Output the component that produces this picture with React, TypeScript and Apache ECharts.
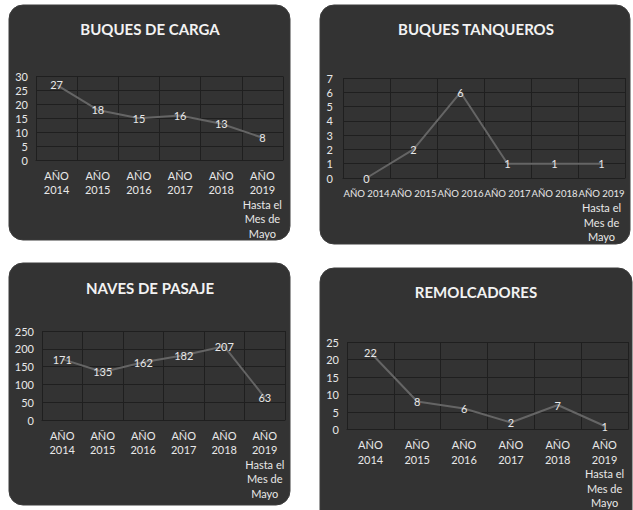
import React, { useEffect, useRef } from "react";
import * as echarts from "echarts";

const titles = ["BUQUES DE CARGA", "BUQUES TANQUEROS", "NAVES DE PASAJE", "REMOLCADORES"];
const catsStacked = ["AÑO\n2014", "AÑO\n2015", "AÑO\n2016", "AÑO\n2017", "AÑO\n2018", "AÑO\n2019\nHasta el\nMes de\nMayo"];
const catsInline = ["AÑO 2014", "AÑO 2015", "AÑO 2016", "AÑO 2017", "AÑO 2018", "AÑO 2019\nHasta el\nMes de\nMayo"];
const cargaValues = [27, 18, 15, 16, 13, 8];
const tanquerosValues = [0, 2, 6, 1, 1, 1];
const pasajeValues = [171, 135, 162, 182, 207, 63];
const remolcadoresValues = [22, 8, 6, 2, 7, 1];
const yMax = [30, 7, 250, 25];
const yStep = [5, 1, 50, 5];

const FONT = "Lato, 'Open Sans', sans-serif";
const PANEL = "#333333";
const GRIDLINE = "#1f1f1f";
const TEXT = "#e8e8e8";
const LINE = "#656565";

export default function App() {
  const ref = useRef<HTMLDivElement>(null);
  useEffect(() => {
    if (!ref.current) return;
    const chart = echarts.init(ref.current, undefined, { renderer: "svg" });
    const grids = [
      { left: 36, top: 76.5, width: 247, height: 83.5 },
      { left: 343, top: 78, width: 282, height: 100 },
      { left: 42, top: 331, width: 243, height: 89 },
      { left: 347, top: 342, width: 281, height: 91 },
    ];
    const panels = [
      { x: 9, y: 5, width: 281, height: 235 },
      { x: 320, y: 5, width: 310, height: 239 },
      { x: 9, y: 263, width: 281, height: 242 },
      { x: 320, y: 268, width: 312, height: 260 },
    ];
    const titlePos = [
      [150, 29],
      [476, 29],
      [150, 288],
      [476, 292],
    ];
    const cats = [catsStacked, catsInline, catsStacked, catsStacked];
    const values = [cargaValues, tanquerosValues, pasajeValues, remolcadoresValues];

    const graphic: any[] = [];
    panels.forEach((p) => {
      graphic.push({
        type: "rect",
        z: -100,
        shape: { ...p, r: 14 },
        style: { fill: PANEL, stroke: "#3c3c3c", lineWidth: 1 },
      });
    });
    titles.forEach((t, i) => {
      graphic.push({
        type: "text",
        z: 100,
        x: titlePos[i][0],
        y: titlePos[i][1],
        style: {
          text: t,
          fill: "#f2f2f2",
          font: `bold 15px ${FONT}`,
          textAlign: "center",
          textVerticalAlign: "middle",
        },
      });
    });

    const inlineFormatter = (val: string) => {
      const lines = val.split("\n");
      return lines.map((l, k) => (k === 0 ? `{s|${l}}` : `{b|${l}}`)).join("\n");
    };

    const option: any = {
      animation: false,
      backgroundColor: "#ffffff",
      graphic,
      grid: grids.map((g) => ({ ...g, containLabel: false })),
      xAxis: cats.map((c, i) => ({
        type: "category",
        gridIndex: i,
        data: c,
        boundaryGap: true,
        axisLine: { show: true, lineStyle: { color: GRIDLINE, width: 1 } },
        axisTick: { show: false },
        splitLine: { show: true, lineStyle: { color: GRIDLINE, width: 1 } },
        axisLabel: {
          color: TEXT,
          fontFamily: FONT,
          fontSize: 11,
          lineHeight: 14.5,
          margin: 8,
          interval: 0,
          ...(i === 1
            ? {
                formatter: inlineFormatter,
                rich: {
                  s: { fontSize: 9.6, color: TEXT, fontFamily: FONT, lineHeight: 14.5 },
                  b: { fontSize: 11, color: TEXT, fontFamily: FONT, lineHeight: 14.5 },
                },
              }
            : {}),
        },
      })),
      yAxis: yMax.map((m, i) => ({
        type: "value",
        gridIndex: i,
        min: 0,
        max: m,
        interval: yStep[i],
        axisLine: { show: false },
        axisTick: { show: false },
        splitLine: { show: true, lineStyle: { color: GRIDLINE, width: 1 } },
        axisLabel: {
          color: TEXT,
          fontFamily: FONT,
          fontSize: 11,
          margin: i === 1 ? 10 : 8,
        },
      })),
      series: values.map((v, i) => ({
        type: "line",
        xAxisIndex: i,
        yAxisIndex: i,
        data: v,
        showSymbol: true,
        symbol: "circle",
        symbolSize: 1,
        itemStyle: { color: "rgba(0,0,0,0)" },
        lineStyle: { color: LINE, width: 2 },
        label: {
          show: true,
          position: "inside",
          color: TEXT,
          fontFamily: FONT,
          fontSize: 11,
        },
      })),
    };
    chart.setOption(option);
    return () => chart.dispose();
  }, []);
  return (
    <div
      ref={ref}
      style={{ position: "absolute", left: 0, top: 0, width: 633, height: 510 }}
    />
  );
}
